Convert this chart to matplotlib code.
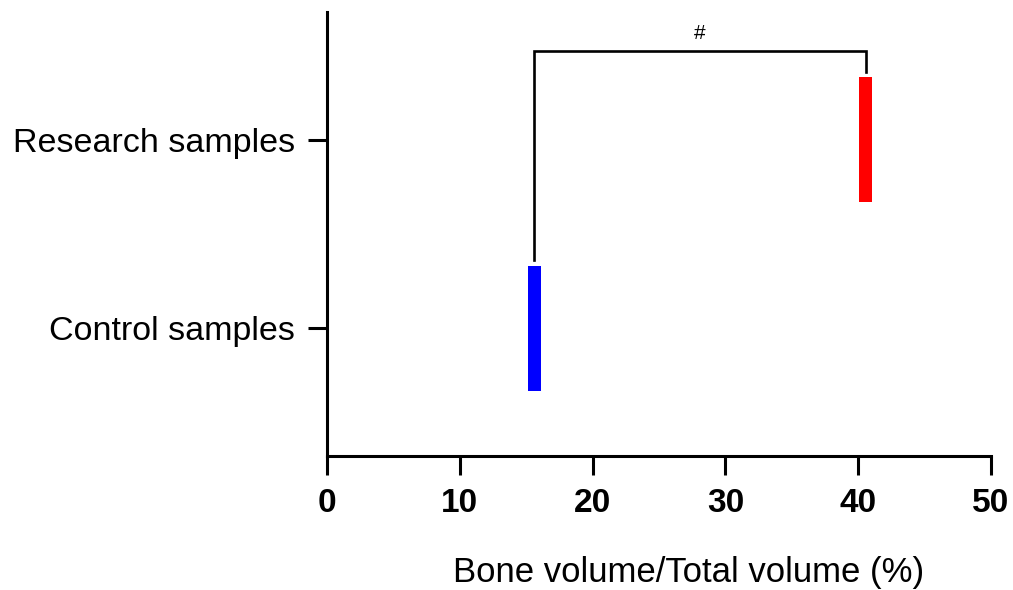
import matplotlib
matplotlib.use("Agg")
import matplotlib.pyplot as plt
from matplotlib import font_manager

# values
groups = ["Control samples", "Research samples"]
bv_tv = [15.6, 40.55]          # group value (%)
bar_colors = ["#0000ff", "#ff0000"]
xticks = [0, 10, 20, 30, 40, 50]
sig_label = "#"

names = {f.name for f in font_manager.fontManager.ttflist}
tick_family = "Liberation Sans Narrow" if "Liberation Sans Narrow" in names else "Liberation Sans"

fig = plt.figure(figsize=(10.13, 5.9), dpi=100)
ax = fig.add_axes([0.3228, 0.2271, 0.6555, 0.7526])

ypos = list(range(len(groups)))
# each group drawn as a narrow box centred on its value
for y, v, c in zip(ypos, bv_tv, bar_colors):
    ax.barh(y, 1.0, left=v - 0.5, height=0.665, color=c, edgecolor="none")

# significance bracket
top = 1.473
ax.plot([bv_tv[0], bv_tv[0], bv_tv[1], bv_tv[1]],
        [0.362, top, top, 1.362], color="black", lw=1.9, solid_joinstyle="miter")
ax.text(sum(bv_tv) / 2, top + 0.04, sig_label, ha="center", va="bottom", fontsize=15,
        family="Liberation Sans")

ax.set_xlim(0, 50)
ax.set_ylim(-0.68, 1.68)
ax.set_xticks(xticks)
ax.set_xticklabels([str(t) for t in xticks], family=tick_family, fontweight="bold", fontsize=24)
ax.set_yticks(ypos)
ax.set_yticklabels(groups, family="Liberation Sans", fontsize=24.5)
ax.set_xlabel("Bone volume/Total volume (%)", family="Liberation Sans", fontsize=25)
ax.xaxis.set_label_coords(0.545, -0.225)

for s in ["top", "right"]:
    ax.spines[s].set_visible(False)
for s in ["left", "bottom"]:
    ax.spines[s].set_linewidth(2.2)
ax.tick_params(axis="both", width=2.2, length=14, color="black")
ax.tick_params(axis="x", pad=9)
ax.tick_params(axis="y", pad=9)

fig.savefig("out.png", dpi=100)
